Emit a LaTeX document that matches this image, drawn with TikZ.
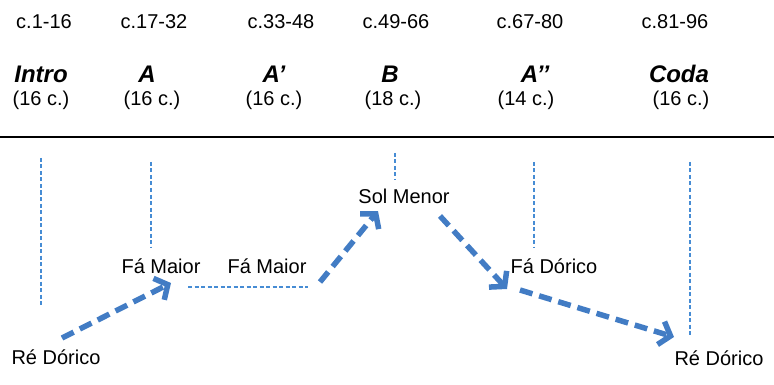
\documentclass[tikz,border=0pt]{standalone}
\usepackage{fontspec}
\setmainfont{Liberation Sans}
\usetikzlibrary{arrows.meta}
\definecolor{keyblue}{RGB}{66,124,196}
\definecolor{lineblue}{RGB}{70,140,212}
\begin{document}
\begin{tikzpicture}[x=1pt,y=-1pt]
    \tikzstyle{every node}+=[inner sep=0pt]
    \tikzstyle{bars}=[font=\fontsize{20}{23}\selectfont]
    \tikzstyle{part}=[font=\fontsize{24}{28}\selectfont\bfseries\itshape]
    \tikzstyle{key}=[font=\fontsize{20}{23}\selectfont]
    \tikzstyle{guide}=[lineblue, line width=1.3pt, dash pattern=on 4pt off 2.5pt]
    \tikzstyle{move}=[keyblue, line width=5.5pt, dash pattern=on 13pt off 7pt,
        -{Straight Barb[length=10pt,width=24pt,line width=5.5pt]}]
    \useasboundingbox (0,0) rectangle (774,385);
    % bars
    \node[bars] (b1) at (44,22) {c.1-16};
    \node[bars] (b2) at (154,22) {c.17-32};
    \node[bars] (b3) at (281,22) {c.33-48};
    \node[bars] (b4) at (396,22) {c.49-66};
    \node[bars] (b5) at (530,22) {c.67-80};
    \node[bars] (b6) at (675,22) {c.81-96};
    % sections
    \node[part] (intro) at (41,74) {Intro};
    \node[part] (secA) at (147,74) {A};
    \node[part] (secA1) at (274,74) {A’};
    \node[part] (secB) at (390,74) {B};
    \node[part] (secA2) at (535,74) {A’’};
    \node[part] (coda) at (679,74) {Coda};
    % lengths
    \node[bars] (n1) at (41,100) {(16 c.)};
    \node[bars] (n2) at (152,100) {(16 c.)};
    \node[bars] (n3) at (274,100) {(16 c.)};
    \node[bars] (n4) at (393,100) {(18 c.)};
    \node[bars] (n5) at (526,100) {(14 c.)};
    \node[bars] (n6) at (681,100) {(16 c.)};
    \draw [black, line width=2.5pt] (0,137) -- (774,137);
    % keys
    \node[key] (re1) at (56,357) {Ré Dórico};
    \node[key] (fa1) at (161,266) {Fá Maior};
    \node[key] (fa2) at (267,266) {Fá Maior};
    \node[key] (sol) at (404,196) {Sol Menor};
    \node[key] (fad) at (554,266) {Fá Dórico};
    \node[key] (re2) at (719,358) {Ré Dórico};
    % guide lines
    \draw [guide] (41,158) -- (41,307);
    \draw [guide] (151,162) -- (151,248);
    \draw [guide] (395,153) -- (395,180);
    \draw [guide] (534,162) -- (534,248);
    \draw [guide] (690,162) -- (690,337);
    \coordinate (f1) at (188,287);
    \coordinate (f2) at (308,287);
    \draw [guide] (f1) -- (f2);
    % moves
    \coordinate (m1s) at (62,338);
    \coordinate (m1e) at (171,283);
    \coordinate (m2s) at (320,282);
    \coordinate (m2e) at (378,211);
    \coordinate (m3s) at (440,216);
    \coordinate (m3e) at (507,289);
    \coordinate (m4s) at (520,290);
    \coordinate (m4e) at (674,337);
    \draw [move] (m1s) -- (m1e);
    \draw [move] (m2s) -- (m2e);
    \draw [move] (m3s) -- (m3e);
    \draw [move] (m4s) -- (m4e);
\end{tikzpicture}
\end{document}
